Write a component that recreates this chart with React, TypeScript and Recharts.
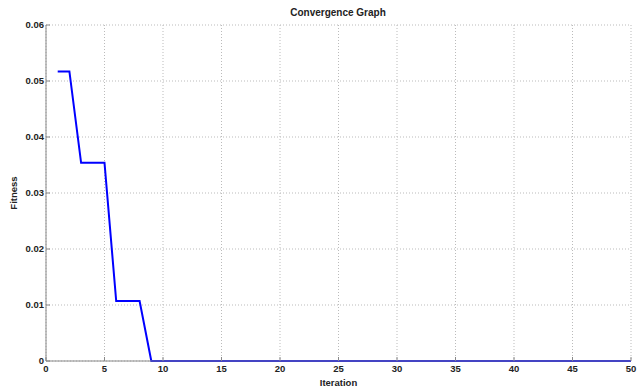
import { CartesianGrid, Label, Line, LineChart, XAxis, YAxis } from 'recharts'

const iterations = [
  1, 2, 3, 4, 5, 6, 7, 8, 9, 10, 11, 12, 13, 14, 15, 16, 17, 18, 19, 20, 21, 22, 23, 24, 25,
  26, 27, 28, 29, 30, 31, 32, 33, 34, 35, 36, 37, 38, 39, 40, 41, 42, 43, 44, 45, 46, 47, 48, 49, 50,
]
const fitness = [
  0.0517, 0.0517, 0.0354, 0.0354, 0.0354, 0.0107, 0.0107, 0.0107, 0, 0, 0, 0, 0, 0, 0, 0, 0, 0, 0, 0,
  0, 0, 0, 0, 0, 0, 0, 0, 0, 0, 0, 0, 0, 0, 0, 0, 0, 0, 0, 0, 0, 0, 0, 0, 0, 0, 0, 0, 0, 0,
]
const xTicks = [0, 5, 10, 15, 20, 25, 30, 35, 40, 45, 50]
const yTicks = [0, 0.01, 0.02, 0.03, 0.04, 0.05, 0.06]

const font = '"Liberation Sans", Arial, sans-serif'
const tickStyle = { fontSize: 9.5, fontFamily: font, fontWeight: 'bold' as const, fill: '#222' }
const labelStyle = { fontSize: 9.5, fontFamily: font, fontWeight: 'bold' as const, fill: '#222' }

export default function App() {
  const data = iterations.map((it, i) => ({ it, f: fitness[i] }))

  return (
    <div style={{ position: 'absolute', left: 0, top: 0, width: 643, height: 387, background: '#fff' }}>
      <LineChart width={643} height={387} data={data} margin={{ top: 25, right: 12, bottom: 0, left: 0 }}>
        <text x={338} y={16} textAnchor="middle" style={{ ...labelStyle, fontSize: 10 }}>
          Convergence Graph
        </text>
        <CartesianGrid stroke="#bbb" strokeDasharray="1 2" />
        <XAxis
          dataKey="it"
          type="number"
          domain={[0, 50]}
          ticks={xTicks}
          interval={0}
          height={26}
          stroke="#888"
          tickSize={-4}
          tickMargin={8}
          tick={tickStyle}
        >
          <Label value="Iteration" position="insideBottom" offset={1} style={labelStyle} />
        </XAxis>
        <YAxis
          type="number"
          domain={[0, 0.06]}
          ticks={yTicks}
          interval={0}
          width={46}
          stroke="#888"
          tickSize={-4}
          tickMargin={6}
          tick={tickStyle}
          tickFormatter={(v: number) => (v === 0 ? '0' : v.toFixed(2))}
        >
          <Label
            value="Fitness"
            angle={-90}
            position="insideLeft"
            offset={14}
            style={{ ...labelStyle, textAnchor: 'middle' }}
          />
        </YAxis>
        <Line
          type="linear"
          dataKey="f"
          stroke="#0000ff"
          strokeWidth={2}
          dot={false}
          isAnimationActive={false}
        />
      </LineChart>
    </div>
  )
}
